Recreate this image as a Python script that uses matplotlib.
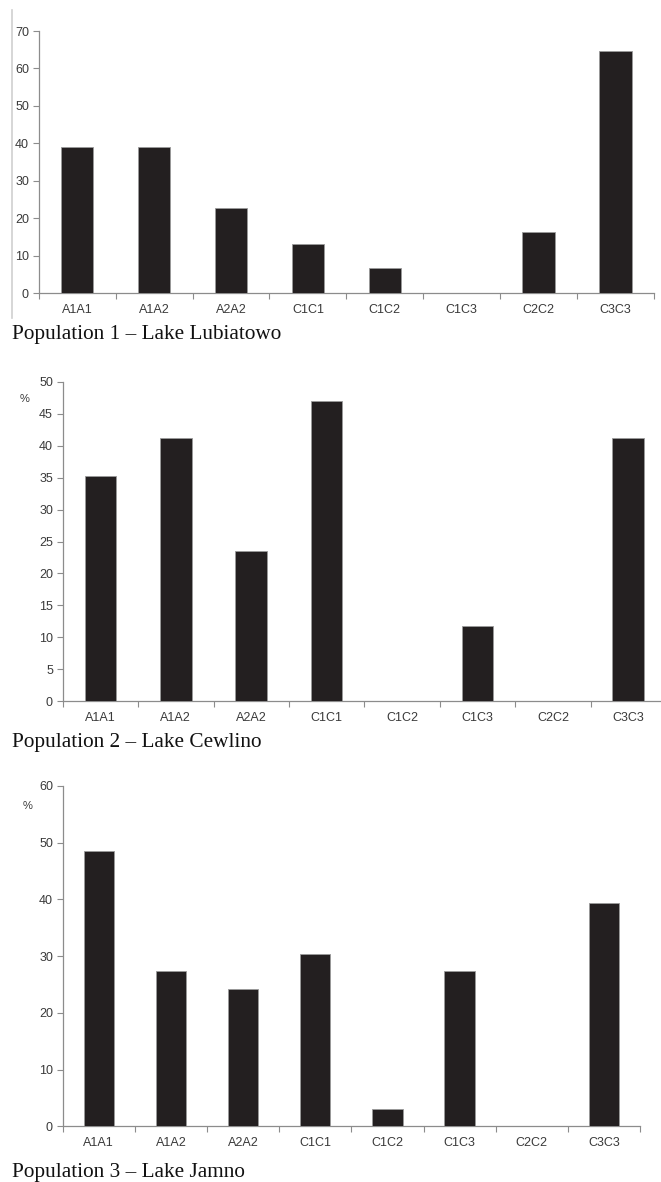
import numpy as np
import matplotlib.pyplot as plt
from matplotlib.lines import Line2D

# Genotypes (same order in all three panels)
genotypes = ['A1A1', 'A1A2', 'A2A2', 'C1C1', 'C1C2', 'C1C3', 'C2C2', 'C3C3']

# Genotype frequencies (%)
pop1 = [38.9, 38.9, 22.6, 13.0, 6.7, 0.0, 16.4, 64.7]
pop2 = [35.3, 41.2, 23.5, 47.1, 0.0, 11.8, 0.0, 41.2]
pop3 = [48.5, 27.3, 24.2, 30.3, 3.0, 27.3, 0.0, 39.4]

captions = ['Population 1 \u2013 Lake Lubiatowo',
            'Population 2 \u2013 Lake Cewlino',
            'Population 3 \u2013 Lake Jamno']
ymax = [70, 50, 60]
ystep = [10, 5, 10]
show_pct = [False, True, True]

W, H = 661, 1182
fig = plt.figure(figsize=(W / 100, H / 100), dpi=100)

# axes boxes in pixels: left, right, top (ymax), bottom (0)
boxes = [(38.7, 654, 31, 293),
         (62.7, 666, 382, 701),
         (62.7, 640, 786, 1126.3)]
caption_y = [335, 743, 1172]
pct_xy = [None, (25, 399), (28, 806)]

bar_col = '#231f20'
axis_col = '#8c8c8c'
text_col = '#3a3a3a'

for k, vals in enumerate([pop1, pop2, pop3]):
    l, r, t, b = boxes[k]
    ax = fig.add_axes([l / W, 1 - b / H, (r - l) / W, (b - t) / H])
    x = np.arange(len(genotypes)) + 0.5
    ax.bar(x, vals, width=0.42, color=bar_col, edgecolor='#9a9a9a', linewidth=0.6, zorder=3)
    ax.set_xlim(0, len(genotypes))
    ax.set_ylim(0, ymax[k])
    ax.set_yticks(np.arange(0, ymax[k] + 0.1, ystep[k]))
    ax.set_xticks(x)
    ax.set_xticklabels(genotypes)
    ax.set_xticks(np.arange(0, len(genotypes) + 1), minor=True)
    ax.tick_params(axis='x', which='major', length=0, pad=8, labelsize=9, labelcolor=text_col)
    ax.tick_params(axis='x', which='minor', length=4, width=0.8, color=axis_col, direction='out')
    ax.tick_params(axis='y', length=4, width=0.8, color=axis_col, labelsize=9,
                   labelcolor=text_col, pad=3)
    for s in ['top', 'right']:
        ax.spines[s].set_visible(False)
    for s in ['left', 'bottom']:
        ax.spines[s].set_color(axis_col)
        ax.spines[s].set_linewidth(0.9)
    for lab in ax.get_xticklabels() + ax.get_yticklabels():
        lab.set_family('Liberation Sans')
    if show_pct[k]:
        px, py = pct_xy[k]
        fig.text(px / W, 1 - py / H, '%', fontsize=8, color=text_col,
                 family='Liberation Sans', ha='center', va='center')
    fig.text(12 / W, 1 - caption_y[k] / H, captions[k], fontsize=15.3,
             family='Liberation Serif', color='#111111', ha='left', va='center')

# faint page border line at the left of the first panel
fig.add_artist(Line2D([12 / W, 12 / W], [1 - 10 / H, 1 - 318 / H],
                      color='#cfcfcf', linewidth=1.2))

fig.savefig('out.png', dpi=100, facecolor='white')
